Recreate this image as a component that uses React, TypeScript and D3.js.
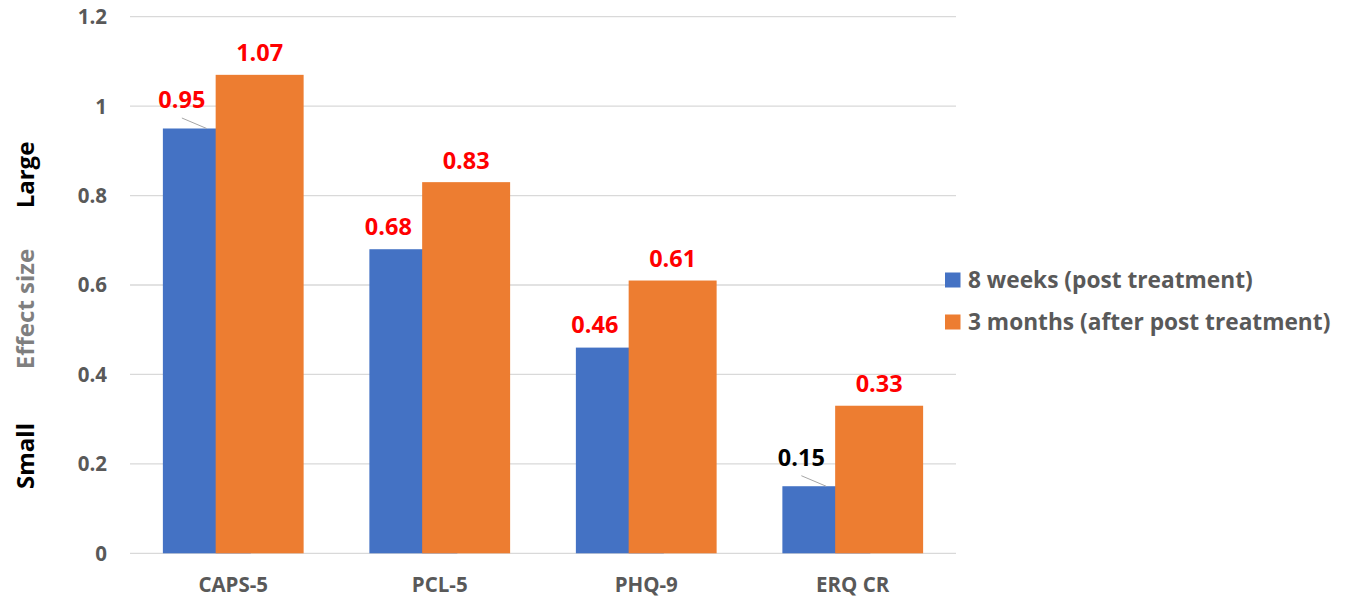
import React from "react";
import * as d3 from "d3";

const categories = ["CAPS-5", "PCL-5", "PHQ-9", "ERQ CR"];
const series = ["8 weeks (post treatment)", "3 months (after post treatment)"];
const weeks8 = [0.95, 0.68, 0.46, 0.15];
const months3 = [1.07, 0.83, 0.61, 0.33];
const weeks8LabelColors = ["#FF0000", "#FF0000", "#FF0000", "#000000"];
const weeks8Leader = [true, false, false, true];
const yTicks = [0, 0.2, 0.4, 0.6, 0.8, 1, 1.2];

const W = 1346;
const H = 604;
const FONT = "'Open Sans', Lato, sans-serif";
const BLUE = "#4472C4";
const ORANGE = "#ED7D31";
const GRID = "#D9D9D9";
const TEXT = "#595959";

export default function App() {
  const left = 130;
  const right = 956;
  const top = 16.7;
  const bottom = 553.3;

  const x = d3.scaleBand<string>().domain(categories).range([left, right]).paddingInner(0).paddingOuter(0);
  const y = d3.scaleLinear().domain([0, 1.2]).range([bottom, top]);

  const step = x.bandwidth();
  const barW = step * 0.426;
  const shift = barW * 0.6;
  const groupW = barW + shift;

  const fmt = (v: number) => d3.format("")(v);

  return (
    <svg width={W} height={H} style={{ position: "absolute", left: 0, top: 0, background: "#fff" }} fontFamily={FONT}>
      {yTicks.map((t) => (
        <line key={"g" + t} x1={left} x2={right} y1={y(t)} y2={y(t)} stroke={GRID} strokeWidth={1.3} />
      ))}
      {yTicks.map((t) => (
        <text key={"t" + t} x={107} y={y(t)} dy="0.36em" textAnchor="end" fontSize={20.5} fontWeight={700} fill={TEXT}>
          {fmt(t)}
        </text>
      ))}
      {categories.map((c, i) => {
        const gx = (x(c) as number) + (step - groupW) / 2;
        const bx = gx;
        const ox = gx + shift;
        const by = y(weeks8[i]);
        const oy = y(months3[i]);
        const blueLabelX = bx + 19;
        const blueLabelY = by - (weeks8Leader[i] ? 20.5 : 14.5);
        return (
          <g key={c}>
            <rect x={bx} y={by} width={barW} height={y(0) - by} fill={BLUE} />
            <rect x={ox} y={oy} width={barW} height={y(0) - oy} fill={ORANGE} />
            <text x={ox + barW / 2} y={oy - 13.5} textAnchor="middle" fontSize={23.5} fontWeight={700} fill="#FF0000">
              {fmt(months3[i])}
            </text>
            <text x={blueLabelX} y={blueLabelY} textAnchor="middle" fontSize={23.5} fontWeight={700} fill={weeks8LabelColors[i]}>
              {fmt(weeks8[i])}
            </text>
            {weeks8Leader[i] && (
              <line x1={blueLabelX} y1={blueLabelY + 10} x2={ox - 9} y2={by} stroke="#A6A6A6" strokeWidth={1} />
            )}
            <text x={(x(c) as number) + step / 2} y={585} dy="0.36em" textAnchor="middle" fontSize={20.5} fontWeight={700} fill={TEXT}>
              {c}
            </text>
          </g>
        );
      })}
      <text transform={`translate(34,175) rotate(-90)`} textAnchor="middle" fontSize={24} fontWeight={700} fill="#000">
        Large
      </text>
      <text transform={`translate(34,309) rotate(-90)`} textAnchor="middle" fontSize={24} fontWeight={700} fill="#7F7F7F">
        Effect size
      </text>
      <text transform={`translate(34,456) rotate(-90)`} textAnchor="middle" fontSize={24} fontWeight={700} fill="#000">
        Small
      </text>
      {series.map((s, i) => (
        <g key={s} transform={`translate(945,${280 + i * 42})`}>
          <rect x={0} y={-7.5} width={15.5} height={15} fill={i === 0 ? BLUE : ORANGE} />
          <text x={23} y={0} dy="0.36em" fontSize={22.7} fontWeight={700} fill={TEXT}>
            {s}
          </text>
        </g>
      ))}
    </svg>
  );
}
